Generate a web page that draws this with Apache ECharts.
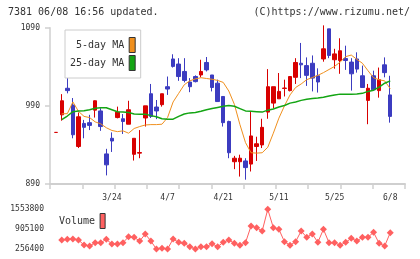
<!DOCTYPE html>
<html><head><meta charset="utf-8">
<script src="https://cdn.jsdelivr.net/npm/echarts@6/dist/echarts.min.js"></script>
<style>html,body{margin:0;padding:0;background:#fff}#c{width:420px;height:259px}</style>
</head><body><div id="c"></div>
<script>
// ---- data ----
const opens  = [956, 978.5, 1012.5, 991, 938, 967.5, 968.5, 984.5, 983.5, 928.5, 948.5, 975, 973.5, 966.5, 928, 929.5, 974.5, 1005.5, 988.5, 991.5, 1014.5, 1050, 1043.5, 1034, 1020.5, 1027.5, 1029.5, 1045.5, 1029.5, 1019, 1002, 970, 918.5, 918.5, 919.5, 915.5, 938, 940, 982, 993.5, 999, 1012.3, 1009.5, 1026.5, 1044.5, 1041.5, 1044.5, 1028.5, 1050, 1088.5, 1049, 1048, 1050.5, 1046, 1050, 1028.5, 997, 1028.5, 1009.5, 1042.5, 1004];
const closes = [956, 996.5, 1009.5, 953, 976, 962.5, 965, 996.5, 963.5, 914.5, 945, 982, 970, 985, 948.5, 930.3, 990, 976.5, 983.5, 1005.5, 1011.5, 1040.5, 1027.5, 1022.5, 1014.5, 1021, 1034, 1036, 1013.5, 995.5, 968.5, 930, 923, 923, 911, 951.5, 941.5, 962.5, 1014.5, 1014.5, 1008.5, 1012.8, 1027.5, 1045.5, 1042.5, 1029, 1025.5, 1020.5, 1063, 1054.5, 1056.5, 1060.5, 1048, 1031, 1037, 1013.5, 1012.5, 1010.5, 1023.5, 1032.5, 976.5];
const lows   = [956, 971, 1006, 948.5, 936, 948.5, 959, 975, 958, 901, 931, 974, 954, 966.5, 920, 923, 963.5, 974.5, 973, 989, 1004, 1039, 1022, 1020, 1007.5, 1020, 1026.5, 1034, 1008.5, 995.5, 963.5, 923, 909, 899.5, 895.5, 906, 919.5, 936, 973.5, 987, 999, 1002, 1008.5, 1018, 1025.5, 1015.5, 1008.5, 1007, 1046.5, 1051, 1037.5, 1031, 1036, 1009.5, 1032.5, 1013.5, 966.5, 1009.5, 1000.5, 1026.5, 968.5];
const highs  = [956, 1005, 1034, 1000, 981.5, 972, 978.5, 997, 987, 935, 956, 989, 979.5, 996.5, 948.5, 959, 990, 1018, 997.5, 1005.5, 1027.5, 1056, 1051, 1051, 1025.5, 1029, 1049, 1052.5, 1029.5, 1023.5, 1002, 971, 926, 927.5, 923, 983.5, 950.5, 973.5, 1037, 1014.5, 1032, 1023.5, 1028, 1051, 1070.5, 1052, 1054.5, 1038, 1093, 1088.5, 1063, 1076.5, 1067, 1051, 1058.5, 1041.5, 1018, 1035, 1039, 1052, 1028.5];
const ma5  = [null, 979.8, 980, 995, 983, 976.5, 975, 969.5, 967, 962, 958.5, 957, 958, 955, 961, 963.5, 965.5, 966, 966, 966.5, 975, 995, 1006, 1017, 1022, 1024.5, 1026, 1025, 1024, 1022.5, 1020, 1009, 992, 966, 943, 930, 929.5, 930, 937, 955, 974.3, 990, 1004, 1013.5, 1018, 1023.5, 1026.2, 1029, 1032.5, 1036.5, 1040.5, 1046, 1053, 1055, 1049.5, 1044.5, 1035, 1026, 1023.3, 1022, 1012];
const ma25 = [null, 972.5, 977, 982.5, 983.5, 983.8, 985, 987, 987.5, 987.5, 985, 982.5, 982, 981.5, 979.5, 979.4, 979.4, 977.5, 976, 973.5, 973, 973, 976.5, 979.5, 981, 981.5, 983, 985, 986.5, 988, 989.5, 990.3, 989.5, 986.5, 983.5, 983, 982.5, 982, 984.5, 986, 988.5, 990.5, 993.5, 995, 997, 998.5, 999.5, 1000, 1001, 1002.5, 1004, 1005, 1005, 1005, 1005.2, 1006, 1008.5, 1010, 1014, 1019, 1022];
const volume = [null, 550500, 573400, 583200, 550500, 387100, 354400, 462300, 462300, 573400, 419800, 419800, 462300, 658400, 638800, 517800, 746600, 517800, 256400, 279300, 256400, 583200, 475400, 442700, 331600, 256400, 331600, 331600, 429600, 331600, 475400, 550500, 442700, 377300, 462300, 1008000, 952500, 844600, 1553800, 952500, 900200, 495000, 377300, 495000, 844600, 638800, 746600, 475400, 900200, 462300, 462300, 377300, 475400, 606100, 517800, 638800, 638800, 802200, 442700, 354400, 789000];
const dateLabels = ['3/24', '4/7', '4/21', '5/11', '5/25', '6/8'];
const dateLabelIdx = [10, 20, 30, 40, 50, 60];
const priceTicks = [890, 990, 1090];
const volumeTicks = [256400, 905100, 1553800];

// ---- chart ----
const FONT = 'DejaVu Sans Mono';
const XMIN = -1.114, XMAX = 62.65;
const AX = '#cfcfcf';
const candleData = opens.map((o, i) => [i, o, closes[i], lows[i], highs[i]]);
const pairs = arr => arr.map((v, i) => [i, v]).filter(p => p[1] !== null);

const chart = echarts.init(document.getElementById('c'), null, {renderer: 'canvas'});
chart.setOption({
  animation: false,
  backgroundColor: '#fff',
  title: [
    {text: '7381 06/08 16:56 updated.', left: 8, top: 7, padding: 0,
     textStyle: {fontSize: 10, fontWeight: 'normal', fontFamily: FONT, color: '#333'}},
    {text: '(C)https://www.rizumu.net/', right: 10, top: 7, padding: 0,
     textStyle: {fontSize: 10, fontWeight: 'normal', fontFamily: FONT, color: '#333'}}
  ],
  legend: [
    {data: ['5-day MA', '25-day MA'], orient: 'vertical', align: 'right', left: 65, top: 30,
     icon: 'rect', itemWidth: 6, itemHeight: 15, itemGap: 2, padding: [7, 5, 7, 5],
     backgroundColor: '#fff', borderColor: '#ccc', borderWidth: 1, selectedMode: false,
     textStyle: {fontSize: 10, fontFamily: FONT, color: '#333'},
     itemStyle: {borderColor: '#333', borderWidth: 1}},
    {data: ['Volume'], orient: 'vertical', align: 'right', left: 59, top: 213,
     icon: 'rect', itemWidth: 5, itemHeight: 15, padding: 0, selectedMode: false,
     textStyle: {fontSize: 10, fontFamily: FONT, color: '#333'},
     itemStyle: {borderColor: '#333', borderWidth: 1}}
  ],
  grid: [
    {left: 50, right: 15, top: 27.7, bottom: 75},
    {left: 50, right: 15, top: 209.3, bottom: 10}
  ],
  xAxis: [
    {gridIndex: 0, type: 'value', min: XMIN, max: XMAX, position: 'bottom',
     axisLine: {show: false, onZero: false}, axisTick: {show: false}, splitLine: {show: false},
     axisLabel: {customValues: dateLabelIdx, formatter: v => dateLabels[dateLabelIdx.indexOf(v)] || '',
       fontSize: 8, fontFamily: FONT, color: '#333', margin: 10}},
    {gridIndex: 0, type: 'value', min: 0, max: 11, interval: 1, position: 'bottom',
     axisLine: {show: true, onZero: false, lineStyle: {color: AX, width: 2}},
     axisTick: {show: true, length: 5, lineStyle: {color: AX, width: 1.5}},
     axisLabel: {show: false}, splitLine: {show: false}},
    {gridIndex: 1, type: 'value', min: XMIN, max: XMAX, show: false}
  ],
  yAxis: [
    {gridIndex: 0, type: 'value', min: 890, max: 1090,
     axisLine: {show: true, onZero: false, lineStyle: {color: AX, width: 1.5}},
     axisTick: {show: true, length: 5, customValues: priceTicks, lineStyle: {color: AX, width: 1.5}},
     axisLabel: {customValues: priceTicks, formatter: v => String(v), margin: 10, fontSize: 8, fontFamily: FONT, color: '#333'},
     splitLine: {show: false}},
    {gridIndex: 1, type: 'value', min: 256400, max: 1553800,
     axisLine: {show: false, onZero: false}, axisTick: {show: false},
     axisLabel: {customValues: volumeTicks, formatter: v => String(v), margin: 6, fontSize: 8, fontFamily: FONT, color: '#333'},
     splitLine: {show: false}}
  ],
  series: [
    {type: 'candlestick', name: 'price', xAxisIndex: 0, yAxisIndex: 0, data: candleData,
     barWidth: 4, clip: false,
     itemStyle: {color: '#d80000', borderColor: '#d80000', color0: '#3c3cc0', borderColor0: '#3c3cc0', borderWidth: 1}},
    {type: 'line', name: '5-day MA', xAxisIndex: 0, yAxisIndex: 0, data: pairs(ma5),
     symbol: 'none', color: '#f0901e', lineStyle: {color: '#f0901e', width: 1}, z: 3},
    {type: 'line', name: '25-day MA', xAxisIndex: 0, yAxisIndex: 0, data: pairs(ma25),
     symbol: 'none', color: '#14a514', lineStyle: {color: '#14a514', width: 1.5}, z: 3},
    {type: 'line', name: 'Volume', xAxisIndex: 2, yAxisIndex: 1, data: pairs(volume),
     symbol: 'diamond', symbolSize: 7, color: '#ff6060',
     lineStyle: {color: '#ff6060', width: 1}, itemStyle: {color: '#ff6060'}}
  ]
});
</script></body></html>
